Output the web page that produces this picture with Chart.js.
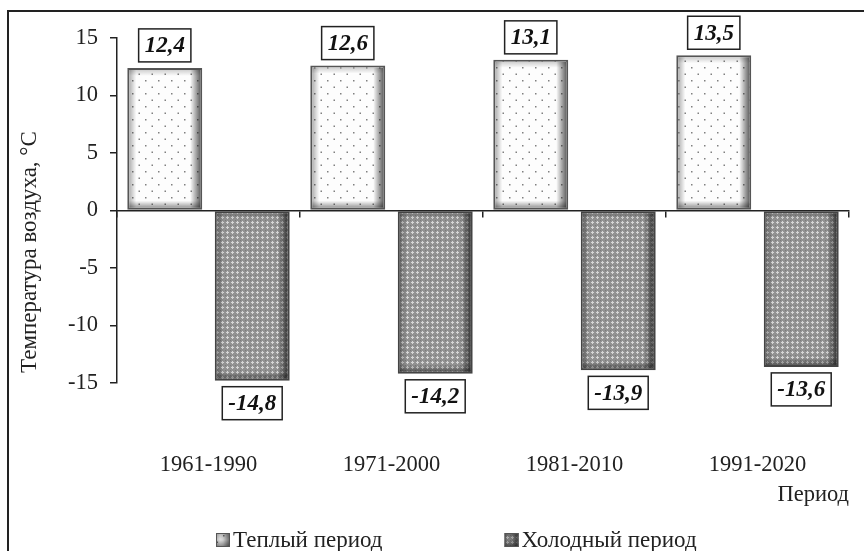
<!DOCTYPE html>
<html>
<head>
<meta charset="utf-8">
<script src="https://cdn.jsdelivr.net/npm/chart.js"></script>
<style>
  html, body { margin: 0; padding: 0; background: #fff; overflow: hidden; }
  #wrap { position: relative; width: 864px; height: 551px; }
  #frame { position: absolute; left: 7px; top: 10px; width: 900px; height: 600px;
           border-left: 2px solid #222; border-top: 2px solid #222; }
  canvas { position: absolute; left: 0; top: 0; }
</style>
</head>
<body>
<div id="wrap">
  <div id="frame"></div>
  <canvas id="chart" width="864" height="551"></canvas>
</div>
<script>
const periods = ['1961-1990', '1971-2000', '1981-2010', '1991-2020'];
const warmValues = [12.4, 12.6, 13.1, 13.5];
const coldValues = [-14.8, -14.2, -13.9, -13.6];
const seriesNames = ['Теплый период', 'Холодный период'];
const yTicks = [-15, -10, -5, 0, 5, 10, 15];
const yTitle = 'Температура воздуха, °C';
const xTitle = 'Период';

const serif = '"Liberation Serif", "Times New Roman", serif';
const ink = '#222';

// dotted fill for the warm bars
function dotPattern() {
    const c = document.createElement('canvas');
    c.width = 13; c.height = 13;
    const g = c.getContext('2d');
    g.fillStyle = '#fdfdfd';
    g.fillRect(0, 0, 13, 13);
    g.fillStyle = '#808080';
    g.fillRect(2, 2, 1.5, 1.5);
    g.fillRect(8.5, 8.5, 1.5, 1.5);
    return g.createPattern(c, 'repeat');
}

// small checker/cross fill for the cold bars
function crossPattern() {
    const c = document.createElement('canvas');
    c.width = 5; c.height = 5;
    const g = c.getContext('2d');
    g.fillStyle = '#929292';
    g.fillRect(0, 0, 5, 5);
    g.fillStyle = '#d6d6d6';
    g.fillRect(2, 1, 1, 3);
    g.fillRect(1, 2, 3, 1);
    g.fillStyle = '#7a7a7a';
    g.fillRect(0, 0, 1, 1);
    return g.createPattern(c, 'repeat');
}

function shadeEdges(ctx, l, t, r, b) {
    let gr = ctx.createLinearGradient(r - 10, 0, r, 0);
    gr.addColorStop(0, 'rgba(0,0,0,0)');
    gr.addColorStop(1, 'rgba(0,0,0,0.6)');
    ctx.fillStyle = gr;
    ctx.fillRect(r - 10, t, 10, b - t);
    gr = ctx.createLinearGradient(l, 0, l + 7, 0);
    gr.addColorStop(0, 'rgba(0,0,0,0.3)');
    gr.addColorStop(1, 'rgba(0,0,0,0)');
    ctx.fillStyle = gr;
    ctx.fillRect(l, t, 7, b - t);
    gr = ctx.createLinearGradient(0, b - 7, 0, b);
    gr.addColorStop(0, 'rgba(0,0,0,0)');
    gr.addColorStop(1, 'rgba(0,0,0,0.4)');
    ctx.fillStyle = gr;
    ctx.fillRect(l, b - 7, r - l, 7);
    gr = ctx.createLinearGradient(0, t, 0, t + 6);
    gr.addColorStop(0, 'rgba(0,0,0,0.18)');
    gr.addColorStop(1, 'rgba(0,0,0,0)');
    ctx.fillStyle = gr;
    ctx.fillRect(l, t, r - l, 6);
}

const bevelPlugin = {
    id: 'bevel',
    afterDatasetsDraw(chart) {
        const ctx = chart.ctx;
        ctx.save();
        chart.data.datasets.forEach((ds, di) => {
            chart.getDatasetMeta(di).data.forEach(bar => {
                const p = bar.getProps(['x', 'y', 'base', 'width']);
                const l = p.x - p.width / 2 + 2, r = p.x + p.width / 2 - 2;
                const t = Math.min(p.y, p.base) + 2, b = Math.max(p.y, p.base) - 2;
                shadeEdges(ctx, l, t, r, b);
            });
        });
        ctx.restore();
    }
};

const valueBoxPlugin = {
    id: 'valueBoxes',
    afterDatasetsDraw(chart) {
        const ctx = chart.ctx;
        ctx.save();
        ctx.font = 'italic bold 23px ' + serif;
        ctx.textAlign = 'center';
        ctx.textBaseline = 'middle';
        chart.data.datasets.forEach((ds, di) => {
            chart.getDatasetMeta(di).data.forEach((bar, i) => {
                const v = ds.data[i];
                const txt = v.toFixed(1).replace('.', ',');
                const w = ctx.measureText(txt).width + 12, h = 33;
                const cy = v >= 0 ? bar.y - 6 - h / 2 : bar.y + 6 + h / 2;
                ctx.fillStyle = '#fff';
                ctx.fillRect(bar.x - w / 2, cy - h / 2, w, h);
                ctx.strokeStyle = ink;
                ctx.lineWidth = 1.5;
                ctx.strokeRect(bar.x - w / 2, cy - h / 2, w, h);
                ctx.fillStyle = '#111';
                ctx.fillText(txt, bar.x, cy + 1);
            });
        });
        ctx.restore();
    }
};

// rotated y title and the bottom legend
const extrasPlugin = {
    id: 'extras',
    afterDraw(chart) {
        const ctx = chart.ctx;
        ctx.save();
        ctx.fillStyle = ink;
        ctx.textBaseline = 'middle';

        ctx.save();
        ctx.font = '23px ' + serif;
        ctx.translate(30, 252);
        ctx.rotate(-Math.PI / 2);
        ctx.textAlign = 'center';
        ctx.fillText(yTitle, 0, 0);
        ctx.restore();

        ctx.font = '23px ' + serif;
        let x = 216;
        const y = 540;
        ctx.textAlign = 'left';
        chart.data.datasets.forEach(ds => {
            ctx.fillStyle = ds.backgroundColor;
            ctx.fillRect(x, y - 7, 14, 14);
            shadeEdges(ctx, x, y - 7, x + 14, y + 7);
            ctx.strokeStyle = '#555';
            ctx.lineWidth = 1;
            ctx.strokeRect(x + 0.5, y - 6.5, 13, 13);
            ctx.fillStyle = ink;
            ctx.fillText(ds.label, x + 17, y + 1);
            x += 17 + ctx.measureText(ds.label).width + 122;
        });
        ctx.restore();
    }
};

new Chart(document.getElementById('chart'), {
    type: 'bar',
    data: {
        labels: periods,
        datasets: [{
            label: seriesNames[0],
            data: warmValues,
            backgroundColor: dotPattern(),
            borderColor: '#555',
            borderWidth: 2,
            borderSkipped: false,
            xAxisID: 'x'
        }, {
            label: seriesNames[1],
            data: coldValues,
            backgroundColor: crossPattern(),
            borderColor: '#444',
            borderWidth: 2,
            borderSkipped: false,
            xAxisID: 'x'
        }]
    },
    options: {
        responsive: false,
        animation: false,
        devicePixelRatio: 1,
        categoryPercentage: 0.956,
        barPercentage: 0.857,
        layout: { padding: { top: 38, right: 15, bottom: 40, left: 0 } },
        plugins: { legend: { display: false }, tooltip: { enabled: false } },
        scales: {
            x: {
                offset: true,
                // invisible long tick marks push the labels down without widening the axis padding
                grid: { display: false, drawTicks: true, tickLength: 66, offset: true },
                border: { display: false },
                ticks: { color: ink, font: { family: serif, size: 22.5 }, padding: 3, maxRotation: 0 },
                title: {
                    display: true, text: xTitle, align: 'end', color: ink,
                    font: { family: serif, size: 22.5 }, padding: { top: 0, bottom: 2 }
                },
                afterFit(s) { s.height = 128; }
            },
            x2: {
                type: 'category',
                position: { y: 0 },
                offset: true,
                grid: { offset: true, drawOnChartArea: false, drawTicks: true, tickLength: 6, color: ink, lineWidth: 1.5 },
                border: { display: true, color: ink, width: 1.5 },
                ticks: { display: false }
            },
            y: {
                min: yTicks[0],
                max: yTicks[yTicks.length - 1],
                afterBuildTicks(s) { s.ticks = yTicks.map(v => ({ value: v })); },
                ticks: { color: ink, font: { family: serif, size: 22.5 }, padding: 12 },
                grid: { drawOnChartArea: false, drawTicks: true, tickLength: 7, color: ink, lineWidth: 1.5 },
                border: { display: true, color: ink, width: 1.5 },
                afterFit(s) { s.width = 117; }
            }
        }
    },
    plugins: [bevelPlugin, valueBoxPlugin, extrasPlugin]
});
</script>
</body>
</html>
